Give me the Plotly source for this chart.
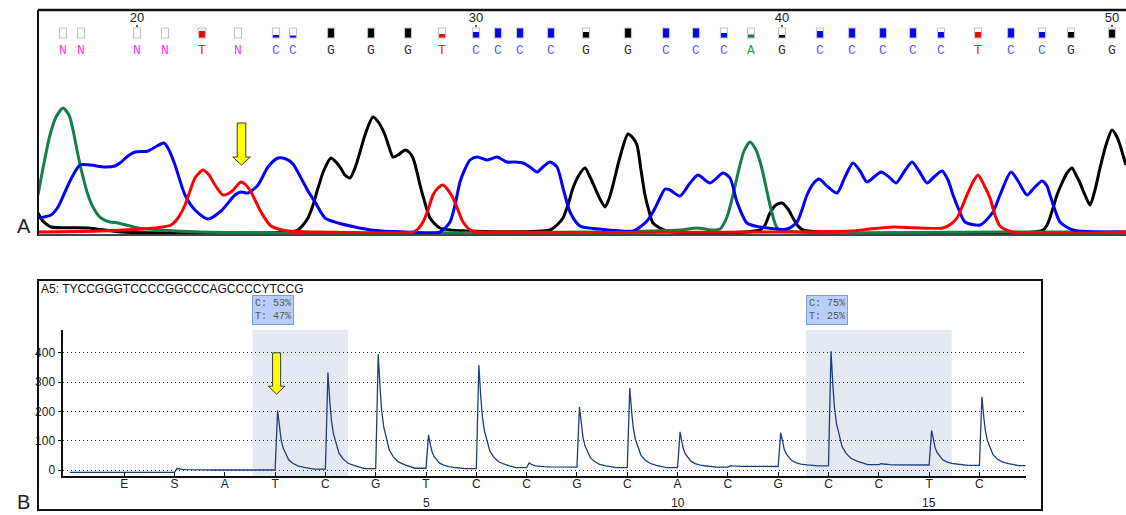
import plotly.graph_objects as go

W, H = 1126, 515

# ---------------- Panel A : Sanger chromatogram ----------------
base_numbers = list(range(18, 51))
base_calls = list("NNNNTNCCGGGTCCCCGGCCCAGCCCCCTCCGG")
base_pos = [63, 81, 137, 165, 202, 238, 276, 293, 331, 371, 408, 442, 476, 498, 520, 551,
            586, 628, 666, 696, 724, 751, 782, 820, 852, 883, 913, 941, 978, 1011, 1042, 1071, 1112]
base_quality = [0, 0, 0, 0, 0.7, 0, 0.3, 0.25, 1, 1, 1, 0.4, 0.6, 1, 1, 1, 0.6, 1, 1, 1, 0.5,
                0.35, 0.3, 0.7, 1, 1, 1, 0.6, 0.6, 1, 0.6, 0.6, 0.85]
labelled_numbers = [20, 30, 40, 50]

# channel traces (scan, intensity)
chan_A_x = [38, 44, 50, 56, 63, 69, 73, 78, 83, 88, 94, 101, 110, 118, 138, 160, 200, 400, 600, 680,
            697, 712, 720, 727, 733, 738, 744, 750, 756, 761, 766, 771, 778, 800, 1000, 1126]
chan_A_y = [40, 72, 100, 118, 127, 120, 105, 80, 58, 40, 26, 17, 13, 12, 7, 5, 3, 2, 3, 5,
            7, 5, 6, 18, 40, 62, 84, 93, 85, 70, 48, 26, 6, 3, 3, 3]

chan_C_x = [38, 51, 58, 65, 72, 80, 90, 105, 115, 120, 128, 135, 148, 157, 164, 169, 175, 185, 195,
            208, 221, 235, 241, 248, 258, 268, 278, 286, 293, 301, 308, 315, 325, 338, 371, 405, 440,
            450, 455, 460, 465, 470, 477, 487, 497, 507, 515, 523, 530, 537, 544, 550, 557, 563, 570,
            580, 600, 633, 640, 647, 653, 660, 665, 670, 680, 690, 698, 710, 723, 730, 737, 747, 760,
            787, 797, 807, 813, 819, 828, 837, 845, 853, 860, 867, 874, 881, 889, 896, 904, 912, 919,
            927, 934, 942, 948, 953, 959, 965, 980, 993, 1000, 1011, 1018, 1027, 1034, 1042, 1047,
            1050, 1055, 1060, 1073, 1126]
chan_C_y = [17, 20, 28, 43, 58, 70, 70, 68, 69, 72, 79, 83, 84, 89, 92, 85, 70, 40, 25,
            16, 24, 40, 43, 42, 50, 68, 77, 76, 71, 57, 44, 33, 17, 12, 5, 3, 3,
            13, 30, 53, 66, 75, 78, 75, 78, 73, 73, 72, 68, 63, 69, 73, 68, 47, 23,
            9, 6, 4, 8, 14, 23, 37, 46, 45, 39, 52, 60, 52, 62, 57, 33, 12, 8,
            6, 13, 40, 51, 56, 48, 42, 58, 72, 64, 53, 58, 63, 58, 52, 63, 73, 64,
            52, 58, 64, 55, 40, 25, 13, 10, 23, 40, 63, 54, 40, 47, 54, 49,
            40, 25, 13, 5, 3]

chan_G_x = [38, 42, 45, 51, 88, 121, 200, 290, 298, 303, 308, 313, 318, 324, 331, 336, 340, 345, 350,
            355, 360, 366, 373, 379, 385, 389, 393, 398, 405, 409, 413, 417, 420, 425, 430, 440, 467,
            550, 557, 563, 568, 573, 579, 585, 590, 595, 600, 605, 609, 613, 620, 628, 633, 637, 641,
            645, 649, 653, 667, 760, 765, 770, 776, 782, 788, 793, 798, 803, 820, 1043, 1048, 1053,
            1057, 1062, 1067, 1072, 1076, 1080, 1085, 1090, 1095, 1100, 1106, 1112, 1117, 1120, 1123, 1126]
chan_G_y = [22, 15, 12, 8, 7, 3, 2, 3, 5, 10, 17, 30, 47, 65, 77, 73, 68, 60, 57,
            67, 83, 103, 118, 112, 100, 88, 78, 80, 85, 83, 77, 63, 50, 32, 17, 7, 4,
            5, 10, 17, 30, 47, 60, 67, 58, 47, 36, 28, 36, 50, 78, 101, 97, 90, 65,
            40, 24, 12, 4, 5, 10, 22, 30, 32, 26, 17, 9, 5, 3, 5, 12, 27,
            40, 52, 62, 67, 60, 52, 40, 30, 45, 67, 90, 105, 98, 90, 80, 70]

chan_T_x = [38, 100, 155, 171, 178, 185, 190, 195, 203, 209, 215, 223, 231, 241, 246, 251, 256, 261,
            271, 288, 320, 413, 418, 423, 428, 433, 438, 443, 448, 453, 458, 463, 472, 500, 850, 870,
            893, 943, 951, 957, 962, 967, 973, 978, 984, 990, 995, 1000, 1013, 1126]
chan_T_y = [3, 4, 7, 10, 17, 30, 44, 57, 65, 60, 50, 40, 43, 53, 50, 43, 33, 23,
            9, 4, 3, 3, 6, 13, 25, 40, 47, 50, 45, 37, 25, 13, 4, 3, 4, 6,
            8, 7, 11, 17, 28, 40, 53, 60, 50, 37, 20, 9, 3, 3]

# ---------------- Panel B : Pyrogram ----------------
disp_letters = ["E", "S", "A", "T", "C", "G", "T", "C", "C", "G", "C", "A", "C", "G", "C", "C", "T", "C"]
disp_pos = list(range(-1, 17))
peak_height = [-8, 5, 0, 203, 333, 395, 120, 358, 24, 215, 280, 130, 15, 128, 405, 22, 135, 250]
level_after = [-8, 0, 0, 3, 5, 6, 5, 8, 10, 8, 8, 10, 12, 14, 18, 17, 16, 15]
decay_dx = [0.05, 0.09, 0.12, 0.16, 0.22, 0.27, 0.35, 0.45, 0.58, 0.78]
decay_frac = [1.0, 0.68, 0.5, 0.36, 0.24, 0.16, 0.1, 0.055, 0.03, 0.0]
trace_start, trace_end = -2.08, 16.92
pyro_title = "A5: TYCCGGGTCCCCGGCCCAGCCCCYTCCG"
variant_regions = [[2, 3], [13, 14, 15]]
variant_text = ["C: 53%<br>T: 47%", "C: 75%<br>T: 25%"]
y_ticks = [0, 100, 200, 300, 400]
index_ticks = [5, 10, 15]

# build pyrogram line from the read peak heights
px_, py_ = [trace_start], [level_after[0]]
for i in range(1, len(disp_pos)):
    n, h, b, prev = disp_pos[i], peak_height[i], level_after[i], level_after[i - 1]
    px_.append(n)
    py_.append(prev)
    if h > prev + 0.5:
        for dx, f in zip(decay_dx, decay_frac):
            px_.append(n + dx)
            py_.append(b + (h - b) * f)
    else:
        px_.append(n + 0.05)
        py_.append(b)
px_.append(trace_end)
py_.append(level_after[-1])

fig = go.Figure()

# ---- panel A traces
for xs, ys, col in [(chan_G_x, chan_G_y, "#000000"), (chan_A_x, chan_A_y, "#138048"),
                    (chan_C_x, chan_C_y, "#0000ff"), (chan_T_x, chan_T_y, "#ff0000")]:
    fig.add_trace(go.Scatter(x=xs, y=ys, mode="lines", xaxis="x", yaxis="y",
                             line=dict(color=col, width=3, shape="spline", smoothing=0.7),
                             hoverinfo="skip"))

letter_color = {"N": "#ff33ff", "T": "#ff2020", "C": "#5a5aff", "G": "#303030", "A": "#2a9a5a"}
box_color = {"N": None, "T": "#ff0000", "C": "#0000ff", "G": "#000000", "A": "#138048"}

fig.add_trace(go.Scatter(x=base_pos, y=[184] * len(base_pos), mode="text", text=base_calls,
                         textfont=dict(family="Liberation Mono", size=13,
                                       color=[letter_color[b] for b in base_calls]),
                         xaxis="x", yaxis="y", hoverinfo="skip"))
num_x = [base_pos[base_numbers.index(n)] for n in labelled_numbers]
fig.add_trace(go.Scatter(x=num_x, y=[216] * len(num_x), mode="text", text=[str(n) for n in labelled_numbers],
                         textfont=dict(family="Liberation Sans", size=13, color="#222222"),
                         xaxis="x", yaxis="y", hoverinfo="skip"))

# ---- panel B trace
fig.add_trace(go.Scatter(x=px_, y=py_, mode="lines", xaxis="x2", yaxis="y2",
                         line=dict(color="#1c3f7c", width=1.3), hoverinfo="skip"))

shapes = []
# quality boxes
for p, b, q in zip(base_pos, base_calls, base_quality):
    if box_color[b] and q > 0:
        shapes.append(dict(type="rect", xref="x", yref="y", x0=p - 3.5, x1=p + 3.5, y0=197,
                           y1=197 + 10 * q, fillcolor=box_color[b], line=dict(width=0)))
    shapes.append(dict(type="rect", xref="x", yref="y", x0=p - 3.5, x1=p + 3.5, y0=197, y1=207,
                       line=dict(color="#c4c4c4", width=1.2), fillcolor="rgba(0,0,0,0)"))
for x in num_x:
    shapes.append(dict(type="line", xref="x", yref="y", x0=x, x1=x, y0=208, y1=210,
                       line=dict(color="#222", width=1.5)))

# panel A frame
shapes += [
    dict(type="line", xref="x domain", yref="y domain", x0=0, x1=1, y0=1, y1=1, line=dict(color="#111", width=2.5)),
    dict(type="line", xref="x domain", yref="y domain", x0=0, x1=0, y0=0, y1=1, line=dict(color="#111", width=2)),
    dict(type="line", xref="x domain", yref="y", x0=0, x1=1, y0=0, y1=0, line=dict(color="#444", width=2)),
]

def arrow_path(xc, top, head, tip, hw_shaft, hw_head):
    return (f"M {xc - hw_shaft},{top} L {xc + hw_shaft},{top} L {xc + hw_shaft},{head} "
            f"L {xc + hw_head},{head} L {xc},{tip} L {xc - hw_head},{head} L {xc - hw_shaft},{head} Z")

shapes.append(dict(type="path", xref="x", yref="y", path=arrow_path(241.5, 112, 78, 70, 4.3, 8.8),
                   fillcolor="#ffff00", line=dict(color="#3a3a3a", width=1)))
shapes.append(dict(type="path", xref="x2", yref="y2", path=arrow_path(2.03, 400, 286, 259, 0.08, 0.165),
                   fillcolor="#ffff00", line=dict(color="#3a3a3a", width=1)))

# shaded variant regions
for reg in variant_regions:
    shapes.append(dict(type="rect", xref="x2", yref="y2 domain", x0=min(reg) - 0.45, x1=max(reg) + 0.45,
                       y0=0, y1=1, fillcolor="#e4e9f1", line=dict(width=0), layer="below"))

# panel B outer frame
shapes.append(dict(type="rect", xref="paper", yref="paper", x0=38 / W, x1=1042 / W,
                   y0=1 - 510 / H, y1=1 - 280 / H, line=dict(color="#111", width=2),
                   fillcolor="rgba(0,0,0,0)"))

annotations = []
for reg, txt in zip(variant_regions, variant_text):
    annotations.append(dict(x=min(reg) - 0.45, y=1, xref="x2", yref="y2 domain", xanchor="left",
                            yanchor="bottom", yshift=5, text=txt, showarrow=False, align="left",
                            font=dict(family="Liberation Mono", size=10, color="#555"),
                            bgcolor="#b8cef8", bordercolor="#7c9bdc", borderwidth=1, borderpad=2))
for n in index_ticks:
    annotations.append(dict(x=n, y=1 - 503 / H, xref="x2", yref="paper", yanchor="middle",
                            text=str(n), showarrow=False,
                            font=dict(family="Liberation Sans", size=12, color="#222")))
annotations += [
    dict(x=39 / W, y=1 - 289 / H, xref="paper", yref="paper", xanchor="left", yanchor="middle",
         text=pyro_title, showarrow=False, font=dict(family="Liberation Sans", size=12, color="#111")),
    dict(x=15 / W, y=1 - 226 / H, xref="paper", yref="paper", yanchor="middle", text="A", showarrow=False,
         font=dict(family="Liberation Sans", size=20, color="#222")),
    dict(x=15 / W, y=1 - 502 / H, xref="paper", yref="paper", yanchor="middle", text="B", showarrow=False,
         font=dict(family="Liberation Sans", size=20, color="#222")),
]

fig.update_layout(
    width=W, height=H, autosize=False, margin=dict(l=0, r=0, t=0, b=0),
    paper_bgcolor="white", plot_bgcolor="white", showlegend=False,
    xaxis=dict(domain=[38 / W, 1], range=[38, 1126], visible=False),
    yaxis=dict(domain=[1 - 236 / H, 1 - 10 / H], range=[-1, 225], visible=False),
    xaxis2=dict(domain=[63.3 / W, 1025.7 / W], range=[-2.21, 16.92], anchor="y2",
                tickvals=disp_pos, ticktext=disp_letters, ticks="inside", ticklen=4,
                tickcolor="#111", showline=True, linecolor="#111", linewidth=1.5,
                showgrid=False, zeroline=False, ticklabelstandoff=-4,
                tickfont=dict(family="Liberation Sans", size=12, color="#222")),
    yaxis2=dict(domain=[1 - 476 / H, 1 - 330 / H], range=[-20.5, 478], anchor="x2",
                tickvals=y_ticks, ticks="outside", ticklen=4, tickcolor="#111",
                showline=True, linecolor="#111", linewidth=1.5, zeroline=False,
                showgrid=True, gridcolor="#333", griddash="1px,3px", gridwidth=1,
                tickfont=dict(family="Liberation Sans", size=12, color="#222")),
    shapes=shapes, annotations=annotations,
)

fig.write_html("out.html")
